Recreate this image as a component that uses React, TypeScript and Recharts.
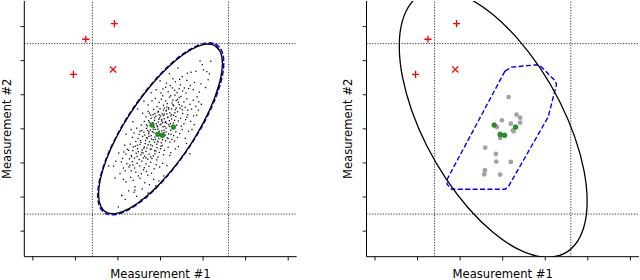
import React from 'react';
import { ComposedChart, XAxis, YAxis, Line, Scatter, ReferenceLine } from 'recharts';

// ---- axes ----
const xTicks = [0, 1, 2, 3, 4, 5, 6];
const yTicks = [0, 1, 2, 3, 4, 5, 6];
const xDomain: [number, number] = [-0.2, 6.2];
const yDomain: [number, number] = [-0.75, 6.75];
const vLines = [1.4, 4.6];
const hLines = [0.5, 5.5];
const xLabel = 'Measurement #1';
const yLabel = 'Measurement #2';

// ---- markers ----
const plusMarkers = [
  { x: 1.915, y: 6.088 },
  { x: 1.244, y: 5.628 },
  { x: 0.953, y: 4.595 },
];
const crossMarkers = [{ x: 1.885, y: 4.742 }];
const greenPoints = [
  { x: 2.8, y: 3.111 },
  { x: 3.303, y: 3.053 },
  { x: 2.941, y: 2.839 },
  { x: 3.045, y: 2.81 },
];
const grayPoints = [
  { x: 3.138, y: 3.931 }, { x: 3.326, y: 3.416 }, { x: 3.411, y: 3.328 },
  { x: 2.981, y: 3.249 }, { x: 3.192, y: 3.152 }, { x: 3.411, y: 3.182 },
  { x: 3.239, y: 2.956 }, { x: 3.256, y: 2.927 }, { x: 2.941, y: 2.731 },
  { x: 2.589, y: 2.45 }, { x: 2.84, y: 2.263 }, { x: 2.848, y: 2.04 },
  { x: 3.192, y: 2.029 }, { x: 2.582, y: 1.786 }, { x: 2.566, y: 1.669 },
  { x: 2.941, y: 1.66 }, { x: 2.864, y: 3.053 },
];

// ---- left point cloud ----
const cloudRaw: [number, number][] = [
  [3.93, 4.99], [3.98, 4.88], [4.01, 4.73], [4.09, 4.68], [4.15, 4.61], [3.83, 4.69], [3.72, 4.66], [3.63, 4.63], [3.51, 4.53],
  [3.29, 4.47], [3.95, 4.32], [3.91, 4.08], [3.77, 4.15], [3.56, 4.2], [3.44, 4.18], [3.28, 4.2], [3.14, 4.34], [3.06, 4.17],
  [2.9, 4.15], [3.35, 4.38], [3.47, 4.29], [3.62, 4.42], [3.7, 4.27], [3.18, 4.09], [3.39, 4.06], [3.52, 4.11], [3.23, 4.27],
  [3.6, 4.05], [3.8, 4.36], [3.01, 4.05], [3.33, 4.13], [3.45, 4.45], [3.66, 4.18], [3.12, 4.22],
  [2.88, 3.89], [3.05, 3.97], [3.21, 3.93], [3.34, 3.99], [3.48, 3.95], [3.62, 3.88], [3.77, 3.84], [3.9, 3.79], [2.97, 3.78],
  [3.12, 3.82], [3.27, 3.76], [3.4, 3.86], [3.55, 3.79], [3.69, 3.72], [3.83, 3.66], [2.71, 3.7], [2.92, 3.65], [3.07, 3.69],
  [3.19, 3.62], [3.31, 3.68], [3.44, 3.71], [3.58, 3.63], [3.73, 3.58], [2.84, 3.57], [2.99, 3.59], [3.14, 3.55], [3.26, 3.58],
  [3.37, 3.61], [3.51, 3.56], [3.64, 3.55], [3.02, 3.87], [3.16, 3.74], [3.29, 3.84], [3.42, 3.78], [3.24, 3.97], [3.5, 3.67],
  [3.09, 3.61], [3.35, 3.56], [2.8, 3.82], [3.86, 3.94],
  [2.58, 3.46], [2.71, 3.51], [2.83, 3.42], [2.94, 3.49], [3.04, 3.44], [3.13, 3.52], [3.22, 3.47], [3.31, 3.4], [3.4, 3.5],
  [3.52, 3.45], [3.64, 3.41], [3.78, 3.38], [2.66, 3.35], [2.78, 3.31], [2.89, 3.37], [2.98, 3.32], [3.07, 3.39], [3.17, 3.34],
  [3.26, 3.29], [3.36, 3.36], [3.47, 3.31], [3.59, 3.27], [3.71, 3.22], [2.62, 3.22], [2.74, 3.19], [2.86, 3.25], [2.95, 3.2],
  [3.03, 3.27], [3.12, 3.21], [3.21, 3.24], [3.3, 3.17], [3.42, 3.23], [3.55, 3.15], [2.55, 3.11], [2.69, 3.08], [2.81, 3.13],
  [2.92, 3.09], [3.01, 3.14], [3.1, 3.07], [3.19, 3.12], [3.28, 3.08], [3.38, 3.11], [3.49, 3.08], [2.87, 3.45], [3.0, 3.38],
  [3.09, 3.3], [3.15, 3.44], [2.96, 3.28], [3.24, 3.38], [3.05, 3.18], [2.77, 3.4], [3.33, 3.25], [2.9, 3.15], [3.14, 3.16], [3.62, 3.34],
  [2.31, 2.98], [2.44, 3.02], [2.56, 2.95], [2.67, 3.01], [2.76, 2.97], [2.85, 3.04], [2.94, 2.99], [3.03, 2.94], [3.13, 3.02],
  [3.24, 2.96], [3.36, 2.91], [3.51, 2.98], [3.66, 2.93], [2.38, 2.88], [2.5, 2.84], [2.61, 2.9], [2.72, 2.86], [2.81, 2.92],
  [2.9, 2.87], [2.99, 2.83], [3.08, 2.89], [3.19, 2.85], [3.31, 2.8], [3.45, 2.86], [2.34, 2.75], [2.47, 2.72], [2.58, 2.78],
  [2.68, 2.74], [2.78, 2.8], [2.87, 2.76], [2.96, 2.71], [3.06, 2.77], [3.16, 2.73], [3.27, 2.69], [3.4, 2.75], [2.42, 2.63],
  [2.54, 2.6], [2.65, 2.66], [2.74, 2.62], [2.83, 2.68], [2.93, 2.64], [3.02, 2.59], [3.12, 2.65], [3.22, 2.61], [2.7, 2.95],
  [2.88, 2.98], [2.79, 2.7], [2.63, 2.82], [2.97, 2.93], [2.86, 2.61], [2.52, 2.93], [3.05, 2.68], [2.73, 2.78], [2.91, 2.81], [3.33, 2.64],
  [2.16, 2.52], [2.29, 2.55], [2.41, 2.49], [2.52, 2.54], [2.62, 2.47], [2.71, 2.53], [2.81, 2.5], [2.92, 2.45], [3.04, 2.51],
  [3.18, 2.46], [3.35, 2.41], [2.22, 2.4], [2.35, 2.36], [2.46, 2.42], [2.57, 2.38], [2.66, 2.34], [2.76, 2.4], [2.86, 2.36],
  [2.97, 2.31], [3.09, 2.37], [3.24, 2.3], [2.19, 2.26], [2.31, 2.22], [2.43, 2.28], [2.54, 2.24], [2.63, 2.2], [2.73, 2.26],
  [2.83, 2.21], [2.94, 2.17], [3.07, 2.24], [2.27, 2.12], [2.39, 2.14], [2.5, 2.1], [2.6, 2.15], [2.7, 2.11], [2.8, 2.13],
  [2.91, 2.09], [2.48, 2.33], [2.68, 2.44], [2.59, 2.29], [2.77, 2.18], [2.36, 2.47], [2.87, 2.27], [3.0, 2.42], [2.45, 2.19],
  [1.9, 1.91], [2.05, 1.69], [2.17, 1.77], [2.31, 1.77], [2.08, 2.03], [2.21, 1.98], [2.34, 2.04], [2.45, 1.99], [2.56, 2.05],
  [2.66, 1.97], [2.77, 2.02], [2.9, 1.95], [3.05, 1.99], [2.26, 1.88], [2.39, 1.85], [2.51, 1.91], [2.62, 1.86], [2.73, 1.9],
  [2.85, 1.83], [2.98, 1.88], [2.42, 1.73], [2.55, 1.68], [2.67, 1.75], [2.79, 1.7], [2.48, 1.62], [2.6, 1.8], [2.35, 1.94],
  [2.7, 1.64], [3.15, 1.92], [2.13, 1.85], [2.32, 2.18], [2.14, 2.32], [2.25, 2.37], [2.11, 2.13],
  [2.36, 1.49], [2.4, 1.3], [2.38, 1.14], [2.25, 1.18], [2.52, 1.55], [2.63, 1.42], [2.19, 1.44], [2.74, 1.36], [2.3, 1.58],
  [2.84, 1.52], [2.57, 1.24], [2.96, 1.47],
  [2.09, 1.04], [2.01, 0.71], [2.17, 0.93], [2.44, 1.02],
  [2.93, 3.06], [3.11, 3.19], [2.84, 2.89], [3.02, 2.77], [3.17, 3.33], [2.79, 3.08], [2.97, 3.41], [3.08, 2.96], [2.88, 2.69],
  [3.21, 3.07], [2.73, 2.91], [3.03, 3.23], [2.96, 2.86], [3.13, 2.91], [2.82, 3.18], [3.26, 3.42], [2.69, 2.72], [3.07, 3.55],
  [2.91, 2.55], [3.34, 3.47], [2.64, 2.57], [2.99, 3.12], [3.19, 3.58], [2.77, 2.53], [3.06, 3.06], [2.86, 3.32], [3.11, 2.82],
  [2.94, 2.62], [3.29, 3.71], [2.72, 3.24], [3.01, 2.49], [3.23, 3.15], [2.83, 2.99], [3.15, 3.64], [2.61, 2.43], [2.95, 3.51],
  [3.37, 3.83], [2.78, 2.41], [3.09, 3.43], [2.89, 2.35], [3.44, 3.92], [2.56, 2.31], [3.18, 2.72], [2.67, 3.12], [3.32, 3.03],
  [2.53, 2.66], [3.46, 3.61], [2.74, 3.46], [3.25, 2.84], [2.46, 2.52],
  [1.78, 1.91], [1.93, 1.56], [2.13, 1.52], [3.85, 3.4], [3.61, 2.57], [3.22, 2.22], [3.69, 2.27], [2.28, 1.93], [2.09, 1.05],
  [2.4, 1.2], [3.58, 2.72], [3.74, 2.98], [3.89, 3.55], [4.06, 4.21], [4.12, 4.44], [2.46, 3.58], [2.61, 3.81], [2.78, 4.06],
  [2.99, 4.41], [3.21, 4.62], [2.35, 3.21], [2.19, 2.84], [2.02, 2.29], [1.95, 2.05], [3.42, 2.48], [3.51, 2.2], [3.31, 1.86],
  [3.08, 1.62], [2.89, 1.33], [2.71, 1.12], [2.55, 0.92], [3.79, 3.12], [3.96, 3.72], [4.18, 4.98], [3.41, 4.78], [2.66, 2.15],
];
const cloudPoints = cloudRaw.map(([x, y]) => ({ x, y }));

// ---- outlines ----
const ellipseLeftRaw: [number, number][] = [
  [4.26, 5.453], [4.405, 5.262], [4.455, 4.916], [4.405, 4.44], [4.26, 3.865], [4.029, 3.233], [3.728, 2.584],
  [3.377, 1.963], [3.0, 1.413], [2.623, 0.971], [2.272, 0.668], [1.971, 0.523], [1.74, 0.547], [1.595, 0.738],
  [1.545, 1.084], [1.595, 1.56], [1.74, 2.135], [1.971, 2.767], [2.272, 3.416], [2.623, 4.037], [3.0, 4.587],
  [3.377, 5.029], [3.728, 5.332], [4.029, 5.477], [4.26, 5.453], [4.405, 5.262], [4.455, 4.916], [4.405, 4.44], [4.26, 3.865],
];
const hullLeftRaw: [number, number][] = [
  [4.282, 5.49], [4.435, 5.296], [4.487, 4.944], [4.437, 4.462], [4.286, 3.879], [4.048, 3.236], [3.738, 2.578],
  [3.381, 1.948], [3.0, 1.39], [2.617, 0.94], [2.26, 0.634], [1.955, 0.488], [1.722, 0.513], [1.575, 0.706],
  [1.524, 1.056], [1.575, 1.539], [1.722, 2.122], [1.955, 2.763], [2.26, 3.422], [2.617, 4.052], [3.0, 4.611],
  [3.381, 5.059], [3.738, 5.364], [4.048, 5.511], [4.282, 5.49], [4.435, 5.296], [4.487, 4.944], [4.437, 4.462], [4.286, 3.879],
];
const ellipseRightRaw: [number, number][] = [
  [1.216, 7.018], [1.674, 7.054], [2.206, 6.825], [2.777, 6.345], [3.348, 5.647], [3.881, 4.78], [4.338, 3.802],
  [4.688, 2.78], [4.909, 1.782], [4.984, 0.878], [4.909, 0.13], [4.688, -0.414], [4.338, -0.714], [3.881, -0.75],
  [3.348, -0.521], [2.777, -0.041], [2.206, 0.657], [1.674, 1.524], [1.216, 2.502], [0.866, 3.524], [0.645, 4.522],
  [0.57, 5.426], [0.645, 6.174], [0.866, 6.718], [1.216, 7.018], [1.674, 7.054],
];
const hullRightRaw: [number, number][] = [
  [3.052, 4.692], [3.209, 4.809], [3.796, 4.879], [3.873, 4.859], [4.225, 4.42], [4.265, 4.303], [4.068, 3.346],
  [3.129, 1.297], [3.052, 1.23], [1.8, 1.23], [1.697, 1.367], [1.683, 1.493], [3.052, 4.692],
];
const toXY = (a: [number, number][]) => a.map(([x, y]) => ({ x, y }));
const ellipseLeft = toXY(ellipseLeftRaw);
const hullLeft = toXY(hullLeftRaw);
const ellipseRight = toXY(ellipseRightRaw);
const hullRight = toXY(hullRightRaw);

const FONT = 'DejaVu Sans, sans-serif';
const FS = 11.6;

const PlusShape = (p: any) => {
  const { cx, cy } = p;
  const s = 3.6;
  return <path d={`M${cx - s},${cy}H${cx + s}M${cx},${cy - s}V${cy + s}`} stroke="#ff0000" strokeWidth={1.3} fill="none" />;
};
const CrossShape = (p: any) => {
  const { cx, cy } = p;
  const s = 3.1;
  return <path d={`M${cx - s},${cy - s}L${cx + s},${cy + s}M${cx - s},${cy + s}L${cx + s},${cy - s}`} stroke="#ff0000" strokeWidth={1.3} fill="none" />;
};
const GreenShape = (p: any) => <circle cx={p.cx} cy={p.cy} r={2.4} fill="#1e9a1e" stroke="#0b640b" strokeWidth={0.6} />;
const GrayShape = (p: any) => <circle cx={p.cx} cy={p.cy} r={2.4} fill="#a3a3a3" />;
const DotShape = (p: any) => <rect x={p.cx - 0.65} y={p.cy - 0.65} width={1.3} height={1.3} fill="#111" />;

const xLabelContent = (props: any) => {
  const vb = props.viewBox || {};
  const cx = (vb.x ?? 0) + (vb.width ?? 0) / 2;
  const y = (vb.y ?? 0) + (vb.height ?? 0) - 2;
  return (
    <text x={cx} y={y} textAnchor="middle" fontFamily={FONT} fontSize={FS} fill="#000">
      {xLabel}
    </text>
  );
};
const yLabelContent = (shift: number) => (props: any) => {
  const vb = props.viewBox || {};
  const cx = (vb.x ?? 0) + (vb.width ?? 0) / 2 + shift;
  const cy = (vb.y ?? 0) + (vb.height ?? 0) / 2;
  return (
    <text x={cx} y={cy} transform={`rotate(-90, ${cx}, ${cy})`} textAnchor="middle" dominantBaseline="central" fontFamily={FONT} fontSize={FS} fill="#000">
      {yLabel}
    </text>
  );
};

function panel(opts: { yAxisWidth: number; marginRight: number; labelShift: number; series: React.ReactElement[] }) {
  return (
    <ComposedChart width={320} height={280} margin={{ top: 1, right: opts.marginRight, bottom: 0, left: 0 }} style={{ fontFamily: FONT }}>
      <XAxis
        type="number"
        dataKey="x"
        domain={xDomain}
        ticks={xTicks}
        allowDataOverflow
        height={23.3}
        tickSize={3.8}
        tickFormatter={() => ''}
        tickLine={{ stroke: '#000', strokeWidth: 0.9 }}
        axisLine={{ stroke: '#000', strokeWidth: 1 }}
        label={xLabelContent}
      />
      <XAxis xAxisId="top" orientation="top" type="number" domain={xDomain} allowDataOverflow height={0} tick={false} tickLine={false} axisLine={{ stroke: '#000', strokeWidth: 1 }} />
      <YAxis
        type="number"
        dataKey="y"
        domain={yDomain}
        ticks={yTicks}
        allowDataOverflow
        width={opts.yAxisWidth}
        tickSize={3.8}
        tickFormatter={() => ''}
        tickLine={{ stroke: '#000', strokeWidth: 0.9 }}
        axisLine={{ stroke: '#000', strokeWidth: 1 }}
        label={yLabelContent(opts.labelShift)}
      />
      <YAxis yAxisId="right" orientation="right" type="number" domain={yDomain} allowDataOverflow width={0} tick={false} tickLine={false} axisLine={{ stroke: '#000', strokeWidth: 1 }} />
      {vLines.map((v) => (
        <ReferenceLine key={`v${v}`} x={v} stroke="#333" strokeWidth={1} strokeDasharray="1.2 1.5" />
      ))}
      {hLines.map((v) => (
        <ReferenceLine key={`h${v}`} y={v} stroke="#333" strokeWidth={1} strokeDasharray="1.2 1.5" />
      ))}
      {opts.series}
    </ComposedChart>
  );
}

export default function App() {
  const leftSeries = [
    <Scatter key="cloud" data={cloudPoints} shape={DotShape} isAnimationActive={false} />,
    <Line key="hull" data={hullLeft} dataKey="y" type="natural" stroke="#0000ff" strokeWidth={1.4} strokeDasharray="5 2.4" dot={false} activeDot={false} isAnimationActive={false} />,
    <Line key="ell" data={ellipseLeft} dataKey="y" type="natural" stroke="#000" strokeWidth={1.3} dot={false} activeDot={false} isAnimationActive={false} />,
    <Scatter key="green" data={greenPoints} shape={GreenShape} isAnimationActive={false} />,
    <Scatter key="plus" data={plusMarkers} shape={PlusShape} isAnimationActive={false} />,
    <Scatter key="cross" data={crossMarkers} shape={CrossShape} isAnimationActive={false} />,
  ];
  const rightSeries = [
    <Scatter key="gray" data={grayPoints} shape={GrayShape} isAnimationActive={false} />,
    <Scatter key="green" data={greenPoints} shape={GreenShape} isAnimationActive={false} />,
    <Line key="hull" data={hullRight} dataKey="y" type="linear" stroke="#0000ff" strokeWidth={1.4} strokeDasharray="5 2.4" dot={false} activeDot={false} isAnimationActive={false} />,
    <Line key="ell" data={ellipseRight} dataKey="y" type="natural" stroke="#000" strokeWidth={1.3} dot={false} activeDot={false} isAnimationActive={false} />,
    <Scatter key="plus" data={plusMarkers} shape={PlusShape} isAnimationActive={false} />,
    <Scatter key="cross" data={crossMarkers} shape={CrossShape} isAnimationActive={false} />,
  ];
  return (
    <div style={{ position: 'absolute', left: 0, top: 0, width: 640, height: 280, background: '#fff' }}>
      <div style={{ position: 'absolute', left: 0, top: 0 }}>
        {panel({ yAxisWidth: 24.3, marginRight: 23.3, labelShift: -5.45, series: leftSeries })}
      </div>
      <div style={{ position: 'absolute', left: 320, top: 0 }}>
        {panel({ yAxisWidth: 46.5, marginRight: 1.1, labelShift: 4.55, series: rightSeries })}
      </div>
    </div>
  );
}
